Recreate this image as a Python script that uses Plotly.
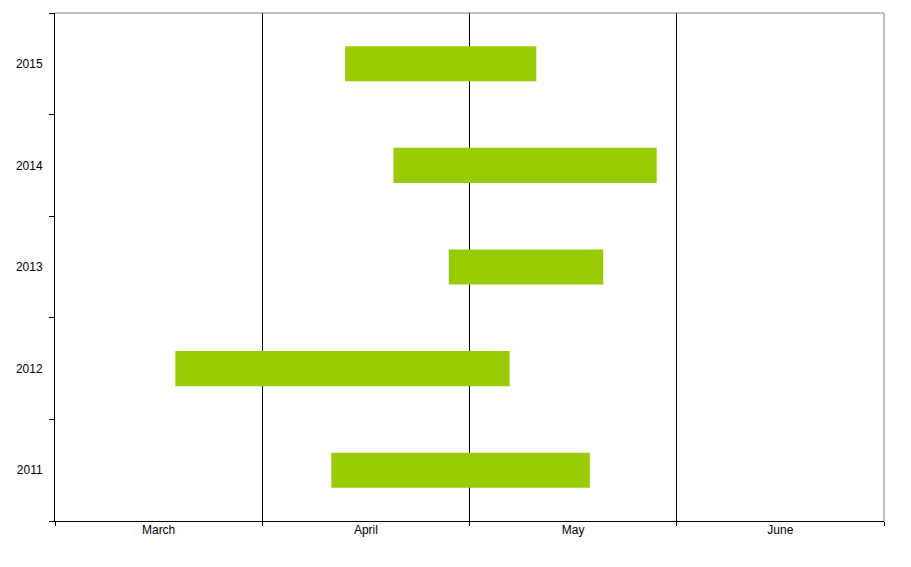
import calendar
import plotly.graph_objects as go

years = ["2011", "2012", "2013", "2014", "2015"]
start_dates = ["04-11", "03-19", "04-28", "04-20", "04-13"]
end_dates = ["05-19", "05-07", "05-21", "05-29", "05-11"]
month_labels = ["March", "April", "May", "June"]
first_month = 3


def to_pos(md):
    m, d = (int(v) for v in md.split("-"))
    days = calendar.monthrange(2001, m)[1]
    return (m - first_month) + (d - 1) / days


starts = [to_pos(s) for s in start_dates]
ends = [to_pos(e) for e in end_dates]
widths = [e - s for s, e in zip(starts, ends)]

fig = go.Figure(
    go.Bar(
        y=years,
        x=widths,
        base=starts,
        orientation="h",
        marker=dict(color="#99CC00", line=dict(width=0)),
        width=0.345,
        hoverinfo="skip",
    )
)

n = len(month_labels)
fig.update_layout(
    width=911,
    height=567,
    margin=dict(l=55, r=27, t=13, b=46),
    paper_bgcolor="white",
    plot_bgcolor="white",
    showlegend=False,
    font=dict(family="Liberation Sans, Arial, sans-serif", size=12, color="black"),
    xaxis=dict(
        range=[0, n],
        tickmode="array",
        tickvals=[i + 0.5 for i in range(n)],
        ticktext=month_labels,
        ticks="",
        ticklabelstandoff=-2,
        showgrid=False,
        zeroline=False,
        showline=True,
        linecolor="black",
        linewidth=1,
        mirror=False,
        minor=dict(
            tickmode="array",
            tickvals=list(range(n + 1)),
            ticks="outside",
            ticklen=4,
            tickcolor="black",
            showgrid=True,
            gridcolor="black",
            gridwidth=1,
        ),
        fixedrange=True,
    ),
    yaxis=dict(
        type="category",
        categoryorder="array",
        categoryarray=years,
        range=[-0.5, len(years) - 0.5],
        tickson="boundaries",
        ticks="outside",
        ticklen=5,
        tickcolor="black",
        showgrid=False,
        zeroline=False,
        showline=True,
        linecolor="black",
        linewidth=1,
        ticklabelstandoff=9,
        fixedrange=True,
    ),
    shapes=[
        dict(type="line", xref="paper", yref="paper", x0=0, x1=1, y0=1, y1=1,
             line=dict(color="#808080", width=1)),
        dict(type="line", xref="paper", yref="paper", x0=1, x1=1, y0=0, y1=1,
             line=dict(color="#808080", width=1)),
    ],
)

fig.write_html(
    "out.html",
    config={"displayModeBar": False},
    post_script="document.body.style.margin='0';document.body.style.overflow='hidden';",
)
